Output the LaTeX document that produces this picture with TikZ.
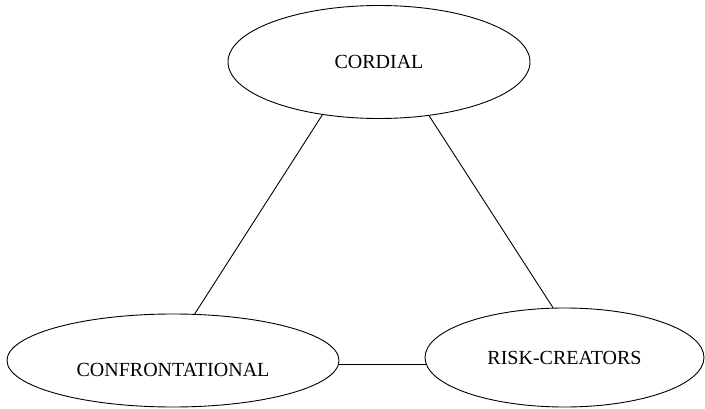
\documentclass[tikz,border=0pt]{standalone}
\usepackage{fontspec}
\setmainfont{Liberation Serif}
\usetikzlibrary{shapes.geometric}
\begin{document}
\begin{tikzpicture}[x=1pt,y=1pt,line width=0.9pt,
    every node/.append style={draw,ellipse,inner sep=0pt,
      font=\fontsize{20}{24}\selectfont}]
    \useasboundingbox (0,0) rectangle (705,408);
    \node[minimum width=302pt,minimum height=113pt] (cordial) at (379,346) {CORDIAL};
    \node[minimum width=332pt,minimum height=93pt,
      label={[draw=none,yshift=-9pt]center:CONFRONTATIONAL}] (conf) at (173,47.5) {};
    \node[minimum width=279pt,minimum height=99pt] (risk) at (564.5,50.5) {RISK-CREATORS};
    \draw (cordial.223) -- (conf.65);
    \draw (cordial.313) -- (risk.103);
    \draw (risk.183) -- (risk.183 -| conf.east);
\end{tikzpicture}
\end{document}
